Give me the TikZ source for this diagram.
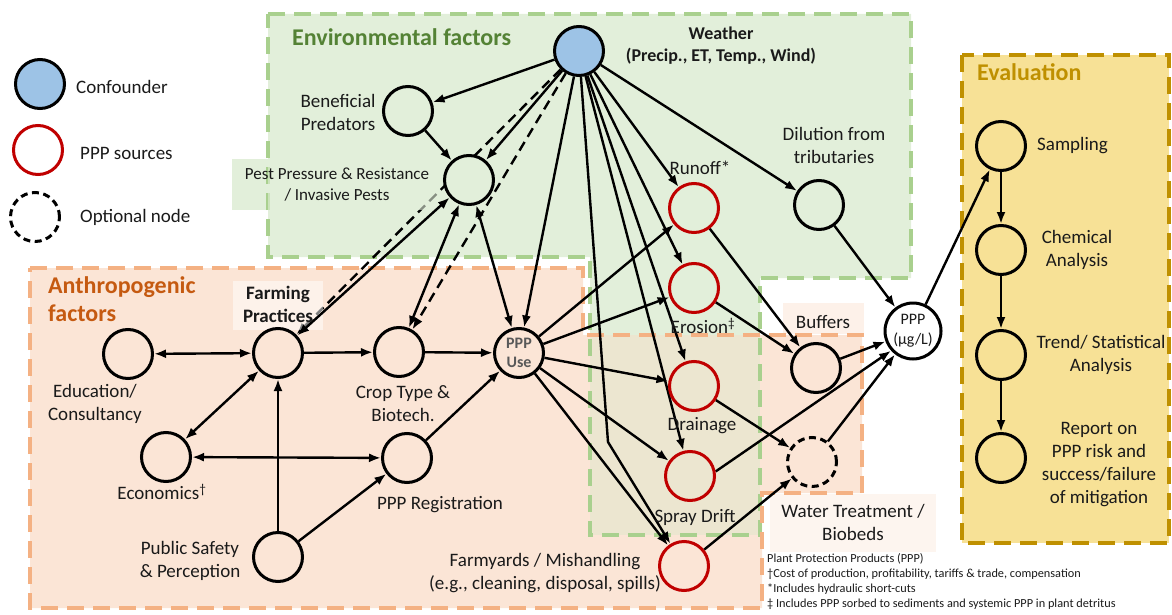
\documentclass[tikz,border=0pt]{standalone}
\usepackage{fontspec}
\setmainfont{Carlito}
\usetikzlibrary{arrows.meta}
\definecolor{envfill}{HTML}{E2EFDA}
\definecolor{envline}{HTML}{A9D08E}
\definecolor{envtitle}{HTML}{548235}
\definecolor{anthfill}{HTML}{FBE5D6}
\definecolor{anthline}{HTML}{F4B183}
\definecolor{anthtitle}{HTML}{C55A11}
\definecolor{ovfill}{HTML}{ECE6D0}
\definecolor{evalfill}{HTML}{F7E196}
\definecolor{evalline}{HTML}{BF9000}
\definecolor{wblue}{HTML}{9DC3E6}
\definecolor{pppred}{HTML}{C00000}
\definecolor{txt}{HTML}{1A1A1A}
\definecolor{usegray}{HTML}{595959}
\pgfdeclarelayer{bg}
\pgfdeclarelayer{dashl}
\pgfdeclarelayer{ovl}
\pgfdeclarelayer{edges}
\pgfsetlayers{bg,dashl,ovl,edges,main}
\begin{document}
\begin{tikzpicture}[x=1pt,y=-1pt,
  >={Latex[length=12pt,width=9pt]},
  nd/.style={circle, draw=black, line width=3pt, minimum size=49pt, inner sep=0pt},
  srcnd/.style={nd, draw=pppred},
  optnd/.style={nd, dash pattern=on 7pt off 4.5pt},
  lbl/.style={font=\fontsize{19}{23}\selectfont, text=txt, align=center, inner sep=0pt},
  blbl/.style={lbl, font=\fontsize{19}{23}\selectfont\bfseries},
  ttl/.style={font=\fontsize{24}{28}\selectfont\bfseries, align=left, inner sep=0pt},
  arr/.style={->, line width=2.4pt, black},
  biarr/.style={<->, line width=2.4pt, black},
  darr/.style={->, line width=2.4pt, black, dash pattern=on 10pt off 6pt},
  boxline/.style={line width=3.4pt, dash pattern=on 17pt off 9pt}
]
\useasboundingbox (0,0) rectangle (1172,615);

% ---------- nodes ----------
\node[nd, fill=wblue] (lconf) at (40,84) {};
\node[srcnd, fill=white] (lsrc) at (38,150) {};
\node[optnd, fill=white] (lopt) at (35,217) {};

\node[nd, fill=wblue] (weather) at (579,51) {};
\node[nd, fill=envfill] (bp) at (408,111) {};
\node[nd, fill=envfill] (pest) at (469,180) {};
\node[srcnd, fill=envfill] (runoff) at (694,208) {};
\node[nd, fill=envfill] (dil) at (819,205) {};
\node[srcnd, fill=envfill] (eros) at (694,288) {};
\node[srcnd, fill=ovfill] (drain) at (694,386) {};
\node[srcnd, fill=ovfill] (spray) at (690,476) {};
\node[srcnd, fill=anthfill] (farmy) at (684,566) {};
\node[nd, fill=anthfill] (buf) at (816,368) {};
\node[optnd, fill=anthfill] (wt) at (812,462) {};
\node[nd, fill=white, minimum size=56pt, align=center, text=txt,
      font=\fontsize{16}{20}\selectfont] (conc) at (913,331) {PPP\\(µg/L)};
\node[nd, fill=evalfill] (samp) at (1001,146) {};
\node[nd, fill=evalfill] (chem) at (1001,250) {};
\node[nd, fill=evalfill] (trend) at (1001,355) {};
\node[nd, fill=evalfill] (rep) at (1001,458) {};

\node[nd, fill=anthfill] (edu) at (128,354) {};
\node[nd, fill=anthfill] (farm) at (278,353) {};
\node[nd, fill=anthfill] (econ) at (166,457) {};
\node[nd, fill=anthfill] (pub) at (278,557) {};
\node[nd, fill=anthfill] (crop) at (399,352) {};
\node[nd, fill=anthfill] (reg) at (407,458) {};
\node[nd, fill=anthfill, text=usegray, align=center,
      font=\fontsize{16}{19}\selectfont\bfseries] (use) at (519,353) {PPP\\Use};
\coordinate (bend) at (608,442);

% ---------- regions ----------
\begin{pgfonlayer}{bg}
  \fill[envfill] (268,14) -- (911,14) -- (911,278) -- (760,278) -- (760,535)
     -- (590,535) -- (590,257) -- (268,257) -- cycle;
  \fill[anthfill] (30,268) -- (583,268) -- (583,335) -- (862,335) -- (862,493)
     -- (762,493) -- (762,608) -- (30,608) -- cycle;
  \fill[ovfill] (590,335) rectangle (760,535);
  \fill[envfill] (232,159) rectangle (268,210);
  \fill[anthfill!55!white] (783,303) rectangle (864,334);
  \fill[anthfill!40!white] (770,494) rectangle (936,552);
  \fill[evalfill] (962,55) rectangle (1169,543);
  \draw[envline, boxline] (268,14) -- (911,14) -- (911,278) -- (760,278) -- (760,535)
     -- (590,535) -- (590,257) -- (268,257) -- cycle;
  \draw[anthline, boxline] (30,268) -- (583,268) -- (583,335) -- (862,335) -- (862,493)
     -- (762,493) -- (762,608) -- (30,608) -- cycle;
  \draw[evalline, boxline] (962,55) rectangle (1169,543);
\end{pgfonlayer}

% ---------- dashed connectors ----------
\begin{pgfonlayer}{dashl}
  \draw[darr] (weather) -- (farm);
  \draw[darr] (weather) -- (crop);
\end{pgfonlayer}
\begin{pgfonlayer}{ovl}
  \fill[envfill, fill opacity=0.6] (268,159) rectangle (440,210);
  \fill[white, fill opacity=0.5] (233,281) rectangle (323,330);
\end{pgfonlayer}

% ---------- connectors ----------
\begin{pgfonlayer}{edges}
  \draw[arr] (weather) -- (bp);
  \draw[arr] (bp) -- (pest);
  \draw[arr] (weather) -- (pest);
  \draw[arr] (weather) -- (use);
  \draw[arr] (weather) -- (runoff);
  \draw[arr] (weather) -- (eros);
  \draw[arr] (weather) -- (drain);
  \draw[arr] (weather) -- (spray);
  \draw[arr] (weather) -- (bend) -- (farmy);
  \draw[arr] (weather) -- (dil);
  \draw[biarr] (pest) -- (farm);
  \draw[biarr] (pest) -- (crop);
  \draw[biarr] (pest) -- (use);
  \draw[biarr] (edu) -- (farm);
  \draw[biarr] (farm) -- (econ);
  \draw[biarr] (econ) -- (reg);
  \draw[arr] (farm) -- (crop);
  \draw[arr] (crop) -- (use);
  \draw[arr] (pub) -- (farm);
  \draw[arr] (pub) -- (reg);
  \draw[arr] (reg) -- (use);
  \draw[arr] (use) -- (runoff);
  \draw[arr] (use) -- (eros);
  \draw[arr] (use) -- (drain);
  \draw[arr] (use) -- (spray);
  \draw[arr] (use) -- (farmy);
  \draw[arr] (runoff) -- (buf);
  \draw[arr] (eros) -- (buf);
  \draw[arr] (drain) -- (wt);
  \draw[arr] (spray.10) -- (conc.222);
  \draw[arr] (farmy) -- (wt);
  \draw[arr] (wt) -- (conc);
  \draw[arr] (buf) -- (conc);
  \draw[arr] (dil) -- (conc);
  \draw[arr] (conc) -- (samp);
  \draw[arr] (samp) -- (chem);
  \draw[arr] (chem) -- (trend);
  \draw[arr] (trend) -- (rep);
\end{pgfonlayer}

% ---------- texts ----------
\node[lbl, anchor=west] (tconf) at (76,87) {Confounder};
\node[lbl, anchor=west] (tsrc) at (80,153) {PPP sources};
\node[lbl, anchor=west] (topt) at (80,217) {Optional node};

\node[ttl, text=envtitle, anchor=west] (tenv) at (292,37) {Environmental factors};
\node[ttl, text=anthtitle, anchor=west] (tanth) at (48,299) {Anthropogenic\\factors};
\node[ttl, text=evalline, anchor=west] (teval) at (977,72) {Evaluation};

\node[lbl, font=\fontsize{18}{22}\selectfont\bfseries] (tweather) at (721,46) {Weather\\(Precip., ET, Temp., Wind)};
\node[lbl] (tbp) at (338,112) {Beneficial\\Predators};
\node[lbl, font=\fontsize{17}{21}\selectfont] (tpest) at (337,185) {Pest Pressure \& Resistance\\/ Invasive Pests};
\node[lbl] (trunoff) at (700,168) {Runoff*};
\node[lbl] (tdil) at (834,145) {Dilution from\\tributaries};
\node[lbl] (teros) at (703,326) {Erosion\textsuperscript{‡}};
\node[lbl] (tdrain) at (702,426) {Drainage};
\node[lbl] (tspray) at (695,517) {Spray Drift};
\node[lbl] (tfarmy) at (545,573) {Farmyards / Mishandling\\(e.g., cleaning, disposal, spills)};
\node[lbl] (tbuf) at (823,322) {Buffers};
\node[lbl] (twt) at (853,522) {Water Treatment /\\Biobeds};
\node[lbl, anchor=west] (tsamp) at (1037,146) {Sampling};
\node[lbl] (tchem) at (1077,250) {Chemical\\Analysis};
\node[lbl] (ttrend) at (1101,355) {Trend/ Statistical\\Analysis};
\node[lbl] (trep) at (1099,465) {Report on\\PPP risk and\\success/failure\\of mitigation};

\node[blbl] (tfarm) at (278,304) {Farming\\Practices};
\node[lbl] (tedu) at (95,404) {Education/\\Consultancy};
\node[lbl] (tecon) at (162,492) {Economics\textsuperscript{†}};
\node[lbl] (tpub) at (190,561) {Public Safety\\\& Perception};
\node[lbl] (tcrop) at (403,404) {Crop Type \&\\Biotech.};
\node[lbl] (treg) at (440,505) {PPP Registration};

\node[lbl, anchor=north west, align=left, font=\fontsize{12.3}{15}\selectfont] (tnotes) at (767,553)
  {Plant Protection Products (PPP)\\
   †Cost of production, profitability, tariffs \& trade, compensation\\
   *Includes hydraulic short-cuts\\
   ‡ Includes PPP sorbed to sediments and systemic PPP in plant detritus};
\end{tikzpicture}
\end{document}
